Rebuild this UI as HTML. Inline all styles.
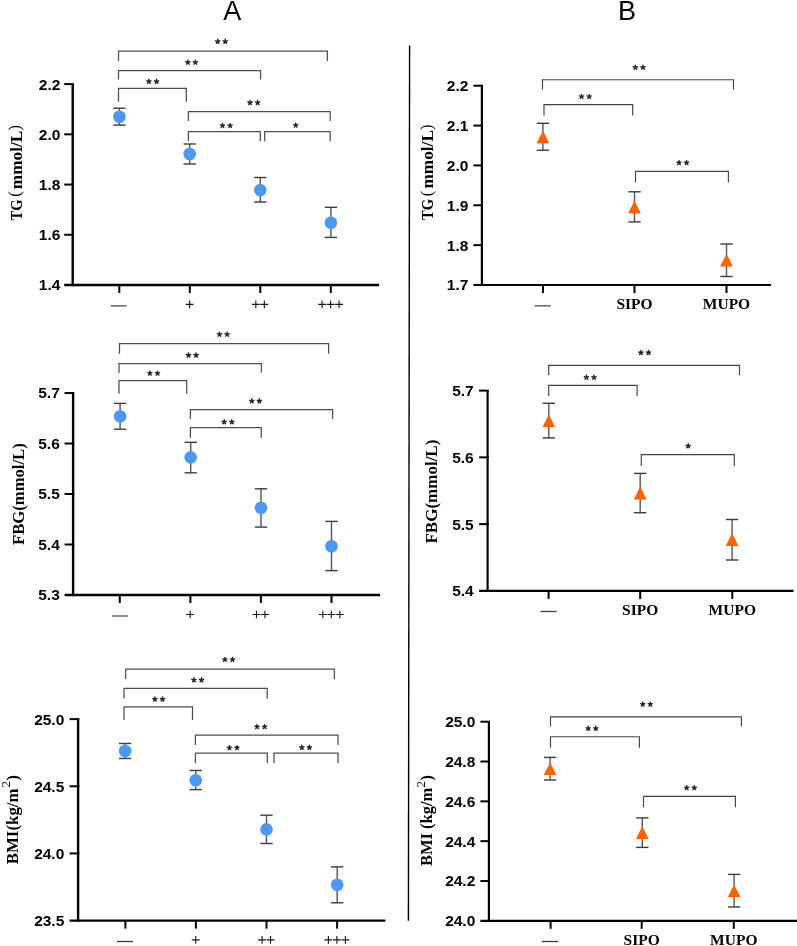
<!DOCTYPE html>
<html><head><meta charset="utf-8"><style>
html,body{margin:0;padding:0;background:#fff;width:797px;height:946px;overflow:hidden}
svg{display:block;position:absolute;left:0;top:0;will-change:transform}
</style></head><body>
<svg width="797" height="946" viewBox="0 0 797 946">
<rect width="797" height="946" fill="#fff"/>
<line x1="72.70" y1="84.10" x2="72.70" y2="286.20" stroke="#000" stroke-width="2.4" stroke-linecap="butt"/>
<line x1="64.20" y1="285.00" x2="379.00" y2="285.00" stroke="#000" stroke-width="2.4" stroke-linecap="butt"/>
<line x1="64.20" y1="84.10" x2="73.90" y2="84.10" stroke="#000" stroke-width="2.0" stroke-linecap="butt"/>
<text x="60.40" y="89.50" font-family="'Liberation Sans', sans-serif" font-size="15.5" font-weight="bold" text-anchor="end" fill="#000" >2.2</text>
<line x1="64.20" y1="134.33" x2="73.90" y2="134.33" stroke="#000" stroke-width="2.0" stroke-linecap="butt"/>
<text x="60.40" y="139.73" font-family="'Liberation Sans', sans-serif" font-size="15.5" font-weight="bold" text-anchor="end" fill="#000" >2.0</text>
<line x1="64.20" y1="184.55" x2="73.90" y2="184.55" stroke="#000" stroke-width="2.0" stroke-linecap="butt"/>
<text x="60.40" y="189.95" font-family="'Liberation Sans', sans-serif" font-size="15.5" font-weight="bold" text-anchor="end" fill="#000" >1.8</text>
<line x1="64.20" y1="234.77" x2="73.90" y2="234.77" stroke="#000" stroke-width="2.0" stroke-linecap="butt"/>
<text x="60.40" y="240.17" font-family="'Liberation Sans', sans-serif" font-size="15.5" font-weight="bold" text-anchor="end" fill="#000" >1.6</text>
<text x="60.40" y="290.40" font-family="'Liberation Sans', sans-serif" font-size="15.5" font-weight="bold" text-anchor="end" fill="#000" >1.4</text>
<line x1="119.30" y1="285.00" x2="119.30" y2="293.00" stroke="#000" stroke-width="2.0" stroke-linecap="butt"/>
<line x1="110.70" y1="305.90" x2="126.70" y2="305.90" stroke="#707070" stroke-width="1.6" stroke-linecap="butt"/>
<line x1="189.80" y1="285.00" x2="189.80" y2="293.00" stroke="#000" stroke-width="2.0" stroke-linecap="butt"/>
<path d="M185.70 304.40H193.50M189.60 300.55V308.25" stroke="#151515" stroke-width="1.1" fill="none"/>
<line x1="260.30" y1="285.00" x2="260.30" y2="293.00" stroke="#000" stroke-width="2.0" stroke-linecap="butt"/>
<path d="M251.95 304.40H259.75M255.85 300.55V308.25" stroke="#151515" stroke-width="1.1" fill="none"/>
<path d="M260.45 304.40H268.25M264.35 300.55V308.25" stroke="#151515" stroke-width="1.1" fill="none"/>
<line x1="330.80" y1="285.00" x2="330.80" y2="293.00" stroke="#000" stroke-width="2.0" stroke-linecap="butt"/>
<path d="M318.20 304.40H326.00M322.10 300.55V308.25" stroke="#151515" stroke-width="1.1" fill="none"/>
<path d="M326.70 304.40H334.50M330.60 300.55V308.25" stroke="#151515" stroke-width="1.1" fill="none"/>
<path d="M335.20 304.40H343.00M339.10 300.55V308.25" stroke="#151515" stroke-width="1.1" fill="none"/>
<path d="M118.50 101.70 V88.30 H186.30 V101.70" fill="none" stroke="#4e4e4e" stroke-width="1.25"/>
<path d="M148.90 81.50L148.90 79.30M148.90 81.50L150.99 80.82M148.90 81.50L150.19 83.28M148.90 81.50L147.61 83.28M148.90 81.50L146.81 80.82" stroke="#222" stroke-width="1.45" stroke-linecap="round" fill="none"/>
<path d="M156.50 81.50L156.50 79.30M156.50 81.50L158.59 80.82M156.50 81.50L157.79 83.28M156.50 81.50L155.21 83.28M156.50 81.50L154.41 80.82" stroke="#222" stroke-width="1.45" stroke-linecap="round" fill="none"/>
<path d="M118.50 79.50 V70.70 H260.60 V79.50" fill="none" stroke="#4e4e4e" stroke-width="1.25"/>
<path d="M187.80 62.40L187.80 60.20M187.80 62.40L189.89 61.72M187.80 62.40L189.09 64.18M187.80 62.40L186.51 64.18M187.80 62.40L185.71 61.72" stroke="#222" stroke-width="1.45" stroke-linecap="round" fill="none"/>
<path d="M195.40 62.40L195.40 60.20M195.40 62.40L197.49 61.72M195.40 62.40L196.69 64.18M195.40 62.40L194.11 64.18M195.40 62.40L193.31 61.72" stroke="#222" stroke-width="1.45" stroke-linecap="round" fill="none"/>
<path d="M118.50 60.90 V51.10 H327.40 V60.90" fill="none" stroke="#4e4e4e" stroke-width="1.25"/>
<path d="M217.70 41.50L217.70 39.30M217.70 41.50L219.79 40.82M217.70 41.50L218.99 43.28M217.70 41.50L216.41 43.28M217.70 41.50L215.61 40.82" stroke="#222" stroke-width="1.45" stroke-linecap="round" fill="none"/>
<path d="M225.30 41.50L225.30 39.30M225.30 41.50L227.39 40.82M225.30 41.50L226.59 43.28M225.30 41.50L224.01 43.28M225.30 41.50L223.21 40.82" stroke="#222" stroke-width="1.45" stroke-linecap="round" fill="none"/>
<path d="M188.40 121.10 V111.50 H330.20 V121.10" fill="none" stroke="#4e4e4e" stroke-width="1.25"/>
<path d="M250.00 102.70L250.00 100.50M250.00 102.70L252.09 102.02M250.00 102.70L251.29 104.48M250.00 102.70L248.71 104.48M250.00 102.70L247.91 102.02" stroke="#222" stroke-width="1.45" stroke-linecap="round" fill="none"/>
<path d="M257.60 102.70L257.60 100.50M257.60 102.70L259.69 102.02M257.60 102.70L258.89 104.48M257.60 102.70L256.31 104.48M257.60 102.70L255.51 102.02" stroke="#222" stroke-width="1.45" stroke-linecap="round" fill="none"/>
<path d="M188.40 141.20 V131.50 H260.30 V141.20" fill="none" stroke="#4e4e4e" stroke-width="1.25"/>
<path d="M222.50 125.60L222.50 123.40M222.50 125.60L224.59 124.92M222.50 125.60L223.79 127.38M222.50 125.60L221.21 127.38M222.50 125.60L220.41 124.92" stroke="#222" stroke-width="1.45" stroke-linecap="round" fill="none"/>
<path d="M230.10 125.60L230.10 123.40M230.10 125.60L232.19 124.92M230.10 125.60L231.39 127.38M230.10 125.60L228.81 127.38M230.10 125.60L228.01 124.92" stroke="#222" stroke-width="1.45" stroke-linecap="round" fill="none"/>
<path d="M264.70 141.20 V131.50 H330.20 V141.20" fill="none" stroke="#4e4e4e" stroke-width="1.25"/>
<path d="M295.70 125.30L295.70 123.10M295.70 125.30L297.79 124.62M295.70 125.30L296.99 127.08M295.70 125.30L294.41 127.08M295.70 125.30L293.61 124.62" stroke="#222" stroke-width="1.45" stroke-linecap="round" fill="none"/>
<line x1="119.40" y1="108.20" x2="119.40" y2="125.10" stroke="#555" stroke-width="1.4" stroke-linecap="butt"/>
<line x1="113.25" y1="108.20" x2="125.55" y2="108.20" stroke="#3c3c3c" stroke-width="1.4" stroke-linecap="butt"/>
<line x1="113.25" y1="125.10" x2="125.55" y2="125.10" stroke="#3c3c3c" stroke-width="1.4" stroke-linecap="butt"/>
<circle cx="119.40" cy="116.70" r="6.3" fill="#4b98f5"/>
<line x1="189.70" y1="144.00" x2="189.70" y2="164.00" stroke="#555" stroke-width="1.4" stroke-linecap="butt"/>
<line x1="183.55" y1="144.00" x2="195.85" y2="144.00" stroke="#3c3c3c" stroke-width="1.4" stroke-linecap="butt"/>
<line x1="183.55" y1="164.00" x2="195.85" y2="164.00" stroke="#3c3c3c" stroke-width="1.4" stroke-linecap="butt"/>
<circle cx="189.70" cy="154.00" r="6.3" fill="#4b98f5"/>
<line x1="260.30" y1="177.50" x2="260.30" y2="202.00" stroke="#555" stroke-width="1.4" stroke-linecap="butt"/>
<line x1="254.15" y1="177.50" x2="266.45" y2="177.50" stroke="#3c3c3c" stroke-width="1.4" stroke-linecap="butt"/>
<line x1="254.15" y1="202.00" x2="266.45" y2="202.00" stroke="#3c3c3c" stroke-width="1.4" stroke-linecap="butt"/>
<circle cx="260.30" cy="190.10" r="6.3" fill="#4b98f5"/>
<line x1="330.90" y1="207.30" x2="330.90" y2="237.40" stroke="#555" stroke-width="1.4" stroke-linecap="butt"/>
<line x1="324.75" y1="207.30" x2="337.05" y2="207.30" stroke="#3c3c3c" stroke-width="1.4" stroke-linecap="butt"/>
<line x1="324.75" y1="237.40" x2="337.05" y2="237.40" stroke="#3c3c3c" stroke-width="1.4" stroke-linecap="butt"/>
<circle cx="330.90" cy="222.70" r="6.3" fill="#4b98f5"/>
<text transform="translate(21.75,220.60) rotate(-90) scale(0.9,1)" font-family="'Liberation Serif', serif" font-size="16.3" font-weight="bold" text-anchor="start">TG</text>
<text transform="translate(19.95,196.80) rotate(-90) scale(1.0,1)" font-family="'Liberation Serif', serif" font-size="16.3" font-weight="normal" text-anchor="start">(</text>
<text transform="translate(21.75,189.20) rotate(-90) scale(1.06,1)" font-family="'Liberation Serif', serif" font-size="16.3" font-weight="bold" text-anchor="start">mmol/L</text>
<text transform="translate(19.95,130.60) rotate(-90) scale(1.0,1)" font-family="'Liberation Serif', serif" font-size="16.3" font-weight="normal" text-anchor="start">)</text>
<line x1="73.10" y1="393.00" x2="73.10" y2="596.20" stroke="#000" stroke-width="2.4" stroke-linecap="butt"/>
<line x1="64.60" y1="595.00" x2="380.00" y2="595.00" stroke="#000" stroke-width="2.4" stroke-linecap="butt"/>
<line x1="64.60" y1="393.00" x2="74.30" y2="393.00" stroke="#000" stroke-width="2.0" stroke-linecap="butt"/>
<text x="59.80" y="398.40" font-family="'Liberation Sans', sans-serif" font-size="15.5" font-weight="bold" text-anchor="end" fill="#000" >5.7</text>
<line x1="64.60" y1="443.50" x2="74.30" y2="443.50" stroke="#000" stroke-width="2.0" stroke-linecap="butt"/>
<text x="59.80" y="448.90" font-family="'Liberation Sans', sans-serif" font-size="15.5" font-weight="bold" text-anchor="end" fill="#000" >5.6</text>
<line x1="64.60" y1="494.00" x2="74.30" y2="494.00" stroke="#000" stroke-width="2.0" stroke-linecap="butt"/>
<text x="59.80" y="499.40" font-family="'Liberation Sans', sans-serif" font-size="15.5" font-weight="bold" text-anchor="end" fill="#000" >5.5</text>
<line x1="64.60" y1="544.50" x2="74.30" y2="544.50" stroke="#000" stroke-width="2.0" stroke-linecap="butt"/>
<text x="59.80" y="549.90" font-family="'Liberation Sans', sans-serif" font-size="15.5" font-weight="bold" text-anchor="end" fill="#000" >5.4</text>
<text x="59.80" y="600.40" font-family="'Liberation Sans', sans-serif" font-size="15.5" font-weight="bold" text-anchor="end" fill="#000" >5.3</text>
<line x1="119.80" y1="595.00" x2="119.80" y2="603.00" stroke="#000" stroke-width="2.0" stroke-linecap="butt"/>
<line x1="111.90" y1="616.00" x2="127.90" y2="616.00" stroke="#707070" stroke-width="1.6" stroke-linecap="butt"/>
<line x1="190.40" y1="595.00" x2="190.40" y2="603.00" stroke="#000" stroke-width="2.0" stroke-linecap="butt"/>
<path d="M186.30 614.50H194.10M190.20 610.65V618.35" stroke="#151515" stroke-width="1.1" fill="none"/>
<line x1="260.90" y1="595.00" x2="260.90" y2="603.00" stroke="#000" stroke-width="2.0" stroke-linecap="butt"/>
<path d="M252.55 614.50H260.35M256.45 610.65V618.35" stroke="#151515" stroke-width="1.1" fill="none"/>
<path d="M261.05 614.50H268.85M264.95 610.65V618.35" stroke="#151515" stroke-width="1.1" fill="none"/>
<line x1="331.50" y1="595.00" x2="331.50" y2="603.00" stroke="#000" stroke-width="2.0" stroke-linecap="butt"/>
<path d="M318.90 614.50H326.70M322.80 610.65V618.35" stroke="#151515" stroke-width="1.1" fill="none"/>
<path d="M327.40 614.50H335.20M331.30 610.65V618.35" stroke="#151515" stroke-width="1.1" fill="none"/>
<path d="M335.90 614.50H343.70M339.80 610.65V618.35" stroke="#151515" stroke-width="1.1" fill="none"/>
<path d="M119.00 393.70 V380.60 H186.70 V393.70" fill="none" stroke="#4e4e4e" stroke-width="1.25"/>
<path d="M149.90 373.30L149.90 371.10M149.90 373.30L151.99 372.62M149.90 373.30L151.19 375.08M149.90 373.30L148.61 375.08M149.90 373.30L147.81 372.62" stroke="#222" stroke-width="1.45" stroke-linecap="round" fill="none"/>
<path d="M157.50 373.30L157.50 371.10M157.50 373.30L159.59 372.62M157.50 373.30L158.79 375.08M157.50 373.30L156.21 375.08M157.50 373.30L155.41 372.62" stroke="#222" stroke-width="1.45" stroke-linecap="round" fill="none"/>
<path d="M119.00 373.00 V363.50 H261.40 V372.50" fill="none" stroke="#4e4e4e" stroke-width="1.25"/>
<path d="M188.50 355.20L188.50 353.00M188.50 355.20L190.59 354.52M188.50 355.20L189.79 356.98M188.50 355.20L187.21 356.98M188.50 355.20L186.41 354.52" stroke="#222" stroke-width="1.45" stroke-linecap="round" fill="none"/>
<path d="M196.10 355.20L196.10 353.00M196.10 355.20L198.19 354.52M196.10 355.20L197.39 356.98M196.10 355.20L194.81 356.98M196.10 355.20L194.01 354.52" stroke="#222" stroke-width="1.45" stroke-linecap="round" fill="none"/>
<path d="M119.50 353.70 V343.60 H328.60 V353.70" fill="none" stroke="#4e4e4e" stroke-width="1.25"/>
<path d="M219.50 334.40L219.50 332.20M219.50 334.40L221.59 333.72M219.50 334.40L220.79 336.18M219.50 334.40L218.21 336.18M219.50 334.40L217.41 333.72" stroke="#222" stroke-width="1.45" stroke-linecap="round" fill="none"/>
<path d="M227.10 334.40L227.10 332.20M227.10 334.40L229.19 333.72M227.10 334.40L228.39 336.18M227.10 334.40L225.81 336.18M227.10 334.40L225.01 333.72" stroke="#222" stroke-width="1.45" stroke-linecap="round" fill="none"/>
<path d="M190.40 419.10 V409.50 H332.60 V419.10" fill="none" stroke="#4e4e4e" stroke-width="1.25"/>
<path d="M251.80 401.00L251.80 398.80M251.80 401.00L253.89 400.32M251.80 401.00L253.09 402.78M251.80 401.00L250.51 402.78M251.80 401.00L249.71 400.32" stroke="#222" stroke-width="1.45" stroke-linecap="round" fill="none"/>
<path d="M259.40 401.00L259.40 398.80M259.40 401.00L261.49 400.32M259.40 401.00L260.69 402.78M259.40 401.00L258.11 402.78M259.40 401.00L257.31 400.32" stroke="#222" stroke-width="1.45" stroke-linecap="round" fill="none"/>
<path d="M190.40 437.80 V427.60 H261.30 V437.80" fill="none" stroke="#4e4e4e" stroke-width="1.25"/>
<path d="M224.20 422.00L224.20 419.80M224.20 422.00L226.29 421.32M224.20 422.00L225.49 423.78M224.20 422.00L222.91 423.78M224.20 422.00L222.11 421.32" stroke="#222" stroke-width="1.45" stroke-linecap="round" fill="none"/>
<path d="M231.80 422.00L231.80 419.80M231.80 422.00L233.89 421.32M231.80 422.00L233.09 423.78M231.80 422.00L230.51 423.78M231.80 422.00L229.71 421.32" stroke="#222" stroke-width="1.45" stroke-linecap="round" fill="none"/>
<line x1="120.10" y1="403.40" x2="120.10" y2="429.20" stroke="#555" stroke-width="1.4" stroke-linecap="butt"/>
<line x1="113.95" y1="403.40" x2="126.25" y2="403.40" stroke="#3c3c3c" stroke-width="1.4" stroke-linecap="butt"/>
<line x1="113.95" y1="429.20" x2="126.25" y2="429.20" stroke="#3c3c3c" stroke-width="1.4" stroke-linecap="butt"/>
<circle cx="120.10" cy="416.20" r="6.3" fill="#4b98f5"/>
<line x1="190.70" y1="442.30" x2="190.70" y2="472.80" stroke="#555" stroke-width="1.4" stroke-linecap="butt"/>
<line x1="184.55" y1="442.30" x2="196.85" y2="442.30" stroke="#3c3c3c" stroke-width="1.4" stroke-linecap="butt"/>
<line x1="184.55" y1="472.80" x2="196.85" y2="472.80" stroke="#3c3c3c" stroke-width="1.4" stroke-linecap="butt"/>
<circle cx="190.70" cy="457.40" r="6.3" fill="#4b98f5"/>
<line x1="261.00" y1="488.80" x2="261.00" y2="527.10" stroke="#555" stroke-width="1.4" stroke-linecap="butt"/>
<line x1="254.85" y1="488.80" x2="267.15" y2="488.80" stroke="#3c3c3c" stroke-width="1.4" stroke-linecap="butt"/>
<line x1="254.85" y1="527.10" x2="267.15" y2="527.10" stroke="#3c3c3c" stroke-width="1.4" stroke-linecap="butt"/>
<circle cx="261.00" cy="507.80" r="6.3" fill="#4b98f5"/>
<line x1="331.50" y1="521.40" x2="331.50" y2="570.60" stroke="#555" stroke-width="1.4" stroke-linecap="butt"/>
<line x1="325.35" y1="521.40" x2="337.65" y2="521.40" stroke="#3c3c3c" stroke-width="1.4" stroke-linecap="butt"/>
<line x1="325.35" y1="570.60" x2="337.65" y2="570.60" stroke="#3c3c3c" stroke-width="1.4" stroke-linecap="butt"/>
<circle cx="331.50" cy="546.20" r="6.3" fill="#4b98f5"/>
<text transform="translate(24.20,545.00) rotate(-90) scale(1.023,1)" font-family="'Liberation Serif', serif" font-size="16.3" font-weight="bold" text-anchor="start">FBG(mmol/L)</text>
<line x1="78.10" y1="719.10" x2="78.10" y2="921.80" stroke="#000" stroke-width="2.4" stroke-linecap="butt"/>
<line x1="69.60" y1="920.60" x2="385.30" y2="920.60" stroke="#000" stroke-width="2.4" stroke-linecap="butt"/>
<line x1="69.60" y1="719.10" x2="79.30" y2="719.10" stroke="#000" stroke-width="2.0" stroke-linecap="butt"/>
<text x="64.30" y="724.50" font-family="'Liberation Sans', sans-serif" font-size="15.5" font-weight="bold" text-anchor="end" fill="#000" >25.0</text>
<line x1="69.60" y1="786.27" x2="79.30" y2="786.27" stroke="#000" stroke-width="2.0" stroke-linecap="butt"/>
<text x="64.30" y="791.67" font-family="'Liberation Sans', sans-serif" font-size="15.5" font-weight="bold" text-anchor="end" fill="#000" >24.5</text>
<line x1="69.60" y1="853.43" x2="79.30" y2="853.43" stroke="#000" stroke-width="2.0" stroke-linecap="butt"/>
<text x="64.30" y="858.83" font-family="'Liberation Sans', sans-serif" font-size="15.5" font-weight="bold" text-anchor="end" fill="#000" >24.0</text>
<text x="64.30" y="926.00" font-family="'Liberation Sans', sans-serif" font-size="15.5" font-weight="bold" text-anchor="end" fill="#000" >23.5</text>
<line x1="125.40" y1="920.60" x2="125.40" y2="928.60" stroke="#000" stroke-width="2.0" stroke-linecap="butt"/>
<line x1="117.00" y1="941.50" x2="133.00" y2="941.50" stroke="#383838" stroke-width="1.3" stroke-linecap="butt"/>
<line x1="195.90" y1="920.60" x2="195.90" y2="928.60" stroke="#000" stroke-width="2.0" stroke-linecap="butt"/>
<path d="M191.80 939.90H199.60M195.70 936.05V943.75" stroke="#151515" stroke-width="1.1" fill="none"/>
<line x1="266.50" y1="920.60" x2="266.50" y2="928.60" stroke="#000" stroke-width="2.0" stroke-linecap="butt"/>
<path d="M258.15 939.90H265.95M262.05 936.05V943.75" stroke="#151515" stroke-width="1.1" fill="none"/>
<path d="M266.65 939.90H274.45M270.55 936.05V943.75" stroke="#151515" stroke-width="1.1" fill="none"/>
<line x1="337.10" y1="920.60" x2="337.10" y2="928.60" stroke="#000" stroke-width="2.0" stroke-linecap="butt"/>
<path d="M324.50 939.90H332.30M328.40 936.05V943.75" stroke="#151515" stroke-width="1.1" fill="none"/>
<path d="M333.00 939.90H340.80M336.90 936.05V943.75" stroke="#151515" stroke-width="1.1" fill="none"/>
<path d="M341.50 939.90H349.30M345.40 936.05V943.75" stroke="#151515" stroke-width="1.1" fill="none"/>
<path d="M124.00 720.10 V706.80 H192.50 V720.10" fill="none" stroke="#4e4e4e" stroke-width="1.25"/>
<path d="M154.90 699.20L154.90 697.00M154.90 699.20L156.99 698.52M154.90 699.20L156.19 700.98M154.90 699.20L153.61 700.98M154.90 699.20L152.81 698.52" stroke="#222" stroke-width="1.45" stroke-linecap="round" fill="none"/>
<path d="M162.50 699.20L162.50 697.00M162.50 699.20L164.59 698.52M162.50 699.20L163.79 700.98M162.50 699.20L161.21 700.98M162.50 699.20L160.41 698.52" stroke="#222" stroke-width="1.45" stroke-linecap="round" fill="none"/>
<path d="M124.00 698.50 V688.30 H267.20 V698.50" fill="none" stroke="#4e4e4e" stroke-width="1.25"/>
<path d="M193.90 680.00L193.90 677.80M193.90 680.00L195.99 679.32M193.90 680.00L195.19 681.78M193.90 680.00L192.61 681.78M193.90 680.00L191.81 679.32" stroke="#222" stroke-width="1.45" stroke-linecap="round" fill="none"/>
<path d="M201.50 680.00L201.50 677.80M201.50 680.00L203.59 679.32M201.50 680.00L202.79 681.78M201.50 680.00L200.21 681.78M201.50 680.00L199.41 679.32" stroke="#222" stroke-width="1.45" stroke-linecap="round" fill="none"/>
<path d="M125.60 678.90 V669.10 H334.40 V678.90" fill="none" stroke="#4e4e4e" stroke-width="1.25"/>
<path d="M224.90 659.60L224.90 657.40M224.90 659.60L226.99 658.92M224.90 659.60L226.19 661.38M224.90 659.60L223.61 661.38M224.90 659.60L222.81 658.92" stroke="#222" stroke-width="1.45" stroke-linecap="round" fill="none"/>
<path d="M232.50 659.60L232.50 657.40M232.50 659.60L234.59 658.92M232.50 659.60L233.79 661.38M232.50 659.60L231.21 661.38M232.50 659.60L230.41 658.92" stroke="#222" stroke-width="1.45" stroke-linecap="round" fill="none"/>
<path d="M195.40 745.10 V735.10 H338.00 V745.10" fill="none" stroke="#4e4e4e" stroke-width="1.25"/>
<path d="M257.00 726.80L257.00 724.60M257.00 726.80L259.09 726.12M257.00 726.80L258.29 728.58M257.00 726.80L255.71 728.58M257.00 726.80L254.91 726.12" stroke="#222" stroke-width="1.45" stroke-linecap="round" fill="none"/>
<path d="M264.60 726.80L264.60 724.60M264.60 726.80L266.69 726.12M264.60 726.80L265.89 728.58M264.60 726.80L263.31 728.58M264.60 726.80L262.51 726.12" stroke="#222" stroke-width="1.45" stroke-linecap="round" fill="none"/>
<path d="M195.40 763.20 V753.20 H267.30 V763.20" fill="none" stroke="#4e4e4e" stroke-width="1.25"/>
<path d="M229.40 747.80L229.40 745.60M229.40 747.80L231.49 747.12M229.40 747.80L230.69 749.58M229.40 747.80L228.11 749.58M229.40 747.80L227.31 747.12" stroke="#222" stroke-width="1.45" stroke-linecap="round" fill="none"/>
<path d="M237.00 747.80L237.00 745.60M237.00 747.80L239.09 747.12M237.00 747.80L238.29 749.58M237.00 747.80L235.71 749.58M237.00 747.80L234.91 747.12" stroke="#222" stroke-width="1.45" stroke-linecap="round" fill="none"/>
<path d="M274.00 763.20 V753.20 H338.00 V763.20" fill="none" stroke="#4e4e4e" stroke-width="1.25"/>
<path d="M301.80 747.50L301.80 745.30M301.80 747.50L303.89 746.82M301.80 747.50L303.09 749.28M301.80 747.50L300.51 749.28M301.80 747.50L299.71 746.82" stroke="#222" stroke-width="1.45" stroke-linecap="round" fill="none"/>
<path d="M309.40 747.50L309.40 745.30M309.40 747.50L311.49 746.82M309.40 747.50L310.69 749.28M309.40 747.50L308.11 749.28M309.40 747.50L307.31 746.82" stroke="#222" stroke-width="1.45" stroke-linecap="round" fill="none"/>
<line x1="125.10" y1="743.50" x2="125.10" y2="758.50" stroke="#555" stroke-width="1.4" stroke-linecap="butt"/>
<line x1="118.95" y1="743.50" x2="131.25" y2="743.50" stroke="#3c3c3c" stroke-width="1.4" stroke-linecap="butt"/>
<line x1="118.95" y1="758.50" x2="131.25" y2="758.50" stroke="#3c3c3c" stroke-width="1.4" stroke-linecap="butt"/>
<circle cx="125.10" cy="751.00" r="6.3" fill="#4b98f5"/>
<line x1="195.70" y1="770.50" x2="195.70" y2="789.60" stroke="#555" stroke-width="1.4" stroke-linecap="butt"/>
<line x1="189.55" y1="770.50" x2="201.85" y2="770.50" stroke="#3c3c3c" stroke-width="1.4" stroke-linecap="butt"/>
<line x1="189.55" y1="789.60" x2="201.85" y2="789.60" stroke="#3c3c3c" stroke-width="1.4" stroke-linecap="butt"/>
<circle cx="195.70" cy="780.20" r="6.3" fill="#4b98f5"/>
<line x1="266.50" y1="815.20" x2="266.50" y2="843.50" stroke="#555" stroke-width="1.4" stroke-linecap="butt"/>
<line x1="260.35" y1="815.20" x2="272.65" y2="815.20" stroke="#3c3c3c" stroke-width="1.4" stroke-linecap="butt"/>
<line x1="260.35" y1="843.50" x2="272.65" y2="843.50" stroke="#3c3c3c" stroke-width="1.4" stroke-linecap="butt"/>
<circle cx="266.50" cy="829.40" r="6.3" fill="#4b98f5"/>
<line x1="337.20" y1="866.90" x2="337.20" y2="902.80" stroke="#555" stroke-width="1.4" stroke-linecap="butt"/>
<line x1="331.05" y1="866.90" x2="343.35" y2="866.90" stroke="#3c3c3c" stroke-width="1.4" stroke-linecap="butt"/>
<line x1="331.05" y1="902.80" x2="343.35" y2="902.80" stroke="#3c3c3c" stroke-width="1.4" stroke-linecap="butt"/>
<circle cx="337.20" cy="884.80" r="6.3" fill="#4b98f5"/>
<text transform="translate(17.90,864.30) rotate(-90) scale(1.035,1)" font-family="'Liberation Serif', serif" font-size="16.3" font-weight="bold" text-anchor="start">BMI(kg/m</text>
<text transform="translate(10.40,787.40) rotate(-90) scale(1.0,1)" font-family="'Liberation Serif', serif" font-size="13" font-weight="normal" text-anchor="start">2</text>
<text transform="translate(17.90,780.60) rotate(-90) scale(1.0,1)" font-family="'Liberation Serif', serif" font-size="16.3" font-weight="bold" text-anchor="start">)</text>
<line x1="481.90" y1="85.70" x2="481.90" y2="286.10" stroke="#000" stroke-width="2.2" stroke-linecap="butt"/>
<line x1="473.40" y1="285.00" x2="771.00" y2="285.00" stroke="#000" stroke-width="2.2" stroke-linecap="butt"/>
<line x1="473.40" y1="85.70" x2="483.00" y2="85.70" stroke="#000" stroke-width="2.0" stroke-linecap="butt"/>
<text x="468.40" y="91.10" font-family="'Liberation Sans', sans-serif" font-size="15.5" font-weight="bold" text-anchor="end" fill="#000" >2.2</text>
<line x1="473.40" y1="125.56" x2="483.00" y2="125.56" stroke="#000" stroke-width="2.0" stroke-linecap="butt"/>
<text x="468.40" y="130.96" font-family="'Liberation Sans', sans-serif" font-size="15.5" font-weight="bold" text-anchor="end" fill="#000" >2.1</text>
<line x1="473.40" y1="165.42" x2="483.00" y2="165.42" stroke="#000" stroke-width="2.0" stroke-linecap="butt"/>
<text x="468.40" y="170.82" font-family="'Liberation Sans', sans-serif" font-size="15.5" font-weight="bold" text-anchor="end" fill="#000" >2.0</text>
<line x1="473.40" y1="205.28" x2="483.00" y2="205.28" stroke="#000" stroke-width="2.0" stroke-linecap="butt"/>
<text x="468.40" y="210.68" font-family="'Liberation Sans', sans-serif" font-size="15.5" font-weight="bold" text-anchor="end" fill="#000" >1.9</text>
<line x1="473.40" y1="245.14" x2="483.00" y2="245.14" stroke="#000" stroke-width="2.0" stroke-linecap="butt"/>
<text x="468.40" y="250.54" font-family="'Liberation Sans', sans-serif" font-size="15.5" font-weight="bold" text-anchor="end" fill="#000" >1.8</text>
<text x="468.40" y="290.40" font-family="'Liberation Sans', sans-serif" font-size="15.5" font-weight="bold" text-anchor="end" fill="#000" >1.7</text>
<line x1="543.00" y1="285.00" x2="543.00" y2="293.00" stroke="#000" stroke-width="2.0" stroke-linecap="butt"/>
<line x1="534.70" y1="305.80" x2="550.70" y2="305.80" stroke="#707070" stroke-width="1.6" stroke-linecap="butt"/>
<line x1="634.50" y1="285.00" x2="634.50" y2="293.00" stroke="#000" stroke-width="2.0" stroke-linecap="butt"/>
<text x="634.50" y="309.00" font-family="'Liberation Serif', serif" font-size="15.5" font-weight="bold" text-anchor="middle" fill="#000" >SIPO</text>
<line x1="726.50" y1="285.00" x2="726.50" y2="293.00" stroke="#000" stroke-width="2.0" stroke-linecap="butt"/>
<text x="726.50" y="309.00" font-family="'Liberation Serif', serif" font-size="15.5" font-weight="bold" text-anchor="middle" fill="#000" >MUPO</text>
<path d="M544.00 115.60 V104.60 H632.70 V115.60" fill="none" stroke="#444" stroke-width="1.15"/>
<path d="M581.60 96.60L581.60 94.40M581.60 96.60L583.69 95.92M581.60 96.60L582.89 98.38M581.60 96.60L580.31 98.38M581.60 96.60L579.51 95.92" stroke="#222" stroke-width="1.45" stroke-linecap="round" fill="none"/>
<path d="M589.20 96.60L589.20 94.40M589.20 96.60L591.29 95.92M589.20 96.60L590.49 98.38M589.20 96.60L587.91 98.38M589.20 96.60L587.11 95.92" stroke="#222" stroke-width="1.45" stroke-linecap="round" fill="none"/>
<path d="M542.50 89.50 V79.70 H733.50 V89.50" fill="none" stroke="#444" stroke-width="1.15"/>
<path d="M635.40 67.40L635.40 65.20M635.40 67.40L637.49 66.72M635.40 67.40L636.69 69.18M635.40 67.40L634.11 69.18M635.40 67.40L633.31 66.72" stroke="#222" stroke-width="1.45" stroke-linecap="round" fill="none"/>
<path d="M643.00 67.40L643.00 65.20M643.00 67.40L645.09 66.72M643.00 67.40L644.29 69.18M643.00 67.40L641.71 69.18M643.00 67.40L640.91 66.72" stroke="#222" stroke-width="1.45" stroke-linecap="round" fill="none"/>
<path d="M635.50 182.40 V171.40 H728.40 V182.40" fill="none" stroke="#444" stroke-width="1.15"/>
<path d="M679.00 162.80L679.00 160.60M679.00 162.80L681.09 162.12M679.00 162.80L680.29 164.58M679.00 162.80L677.71 164.58M679.00 162.80L676.91 162.12" stroke="#222" stroke-width="1.45" stroke-linecap="round" fill="none"/>
<path d="M686.60 162.80L686.60 160.60M686.60 162.80L688.69 162.12M686.60 162.80L687.89 164.58M686.60 162.80L685.31 164.58M686.60 162.80L684.51 162.12" stroke="#222" stroke-width="1.45" stroke-linecap="round" fill="none"/>
<text transform="translate(433.40,220.00) rotate(-90) scale(0.9,1)" font-family="'Liberation Serif', serif" font-size="16.3" font-weight="bold" text-anchor="start">TG</text>
<text transform="translate(431.60,196.20) rotate(-90) scale(1.0,1)" font-family="'Liberation Serif', serif" font-size="16.3" font-weight="normal" text-anchor="start">(</text>
<text transform="translate(433.40,188.60) rotate(-90) scale(1.06,1)" font-family="'Liberation Serif', serif" font-size="16.3" font-weight="bold" text-anchor="start">mmol/L</text>
<text transform="translate(431.60,130.00) rotate(-90) scale(1.0,1)" font-family="'Liberation Serif', serif" font-size="16.3" font-weight="normal" text-anchor="start">)</text>
<line x1="542.90" y1="123.30" x2="542.90" y2="150.20" stroke="#555" stroke-width="1.4" stroke-linecap="butt"/>
<line x1="536.75" y1="123.30" x2="549.05" y2="123.30" stroke="#3c3c3c" stroke-width="1.4" stroke-linecap="butt"/>
<line x1="536.75" y1="150.20" x2="549.05" y2="150.20" stroke="#3c3c3c" stroke-width="1.4" stroke-linecap="butt"/>
<path d="M542.90 130.50 L549.20 143.20 L536.60 143.20 Z" fill="#ff6200"/>
<line x1="634.50" y1="191.80" x2="634.50" y2="221.90" stroke="#555" stroke-width="1.4" stroke-linecap="butt"/>
<line x1="628.35" y1="191.80" x2="640.65" y2="191.80" stroke="#3c3c3c" stroke-width="1.4" stroke-linecap="butt"/>
<line x1="628.35" y1="221.90" x2="640.65" y2="221.90" stroke="#3c3c3c" stroke-width="1.4" stroke-linecap="butt"/>
<path d="M634.50 200.70 L640.80 213.20 L628.20 213.20 Z" fill="#ff6200"/>
<line x1="726.50" y1="244.00" x2="726.50" y2="276.50" stroke="#555" stroke-width="1.4" stroke-linecap="butt"/>
<line x1="720.35" y1="244.00" x2="732.65" y2="244.00" stroke="#3c3c3c" stroke-width="1.4" stroke-linecap="butt"/>
<line x1="720.35" y1="276.50" x2="732.65" y2="276.50" stroke="#3c3c3c" stroke-width="1.4" stroke-linecap="butt"/>
<path d="M726.50 253.50 L732.80 266.40 L720.20 266.40 Z" fill="#ff6200"/>
<line x1="487.60" y1="390.60" x2="487.60" y2="592.00" stroke="#000" stroke-width="2.2" stroke-linecap="butt"/>
<line x1="479.10" y1="590.90" x2="793.50" y2="590.90" stroke="#000" stroke-width="2.2" stroke-linecap="butt"/>
<line x1="479.10" y1="390.60" x2="488.70" y2="390.60" stroke="#000" stroke-width="2.0" stroke-linecap="butt"/>
<text x="473.70" y="396.00" font-family="'Liberation Sans', sans-serif" font-size="15.5" font-weight="bold" text-anchor="end" fill="#000" >5.7</text>
<line x1="479.10" y1="457.37" x2="488.70" y2="457.37" stroke="#000" stroke-width="2.0" stroke-linecap="butt"/>
<text x="473.70" y="462.77" font-family="'Liberation Sans', sans-serif" font-size="15.5" font-weight="bold" text-anchor="end" fill="#000" >5.6</text>
<line x1="479.10" y1="524.13" x2="488.70" y2="524.13" stroke="#000" stroke-width="2.0" stroke-linecap="butt"/>
<text x="473.70" y="529.53" font-family="'Liberation Sans', sans-serif" font-size="15.5" font-weight="bold" text-anchor="end" fill="#000" >5.5</text>
<text x="473.70" y="596.30" font-family="'Liberation Sans', sans-serif" font-size="15.5" font-weight="bold" text-anchor="end" fill="#000" >5.4</text>
<line x1="548.60" y1="590.90" x2="548.60" y2="598.90" stroke="#000" stroke-width="2.0" stroke-linecap="butt"/>
<line x1="540.60" y1="611.50" x2="556.60" y2="611.50" stroke="#404040" stroke-width="1.3" stroke-linecap="butt"/>
<line x1="640.20" y1="590.90" x2="640.20" y2="598.90" stroke="#000" stroke-width="2.0" stroke-linecap="butt"/>
<text x="640.20" y="615.00" font-family="'Liberation Serif', serif" font-size="15.5" font-weight="bold" text-anchor="middle" fill="#000" >SIPO</text>
<line x1="732.30" y1="590.90" x2="732.30" y2="598.90" stroke="#000" stroke-width="2.0" stroke-linecap="butt"/>
<text x="732.30" y="615.00" font-family="'Liberation Serif', serif" font-size="15.5" font-weight="bold" text-anchor="middle" fill="#000" >MUPO</text>
<path d="M548.70 396.00 V385.30 H637.10 V396.00" fill="none" stroke="#444" stroke-width="1.15"/>
<path d="M586.40 377.40L586.40 375.20M586.40 377.40L588.49 376.72M586.40 377.40L587.69 379.18M586.40 377.40L585.11 379.18M586.40 377.40L584.31 376.72" stroke="#222" stroke-width="1.45" stroke-linecap="round" fill="none"/>
<path d="M594.00 377.40L594.00 375.20M594.00 377.40L596.09 376.72M594.00 377.40L595.29 379.18M594.00 377.40L592.71 379.18M594.00 377.40L591.91 376.72" stroke="#222" stroke-width="1.45" stroke-linecap="round" fill="none"/>
<path d="M548.70 375.00 V365.30 H739.50 V375.00" fill="none" stroke="#444" stroke-width="1.15"/>
<path d="M640.90 352.70L640.90 350.50M640.90 352.70L642.99 352.02M640.90 352.70L642.19 354.48M640.90 352.70L639.61 354.48M640.90 352.70L638.81 352.02" stroke="#222" stroke-width="1.45" stroke-linecap="round" fill="none"/>
<path d="M648.50 352.70L648.50 350.50M648.50 352.70L650.59 352.02M648.50 352.70L649.79 354.48M648.50 352.70L647.21 354.48M648.50 352.70L646.41 352.02" stroke="#222" stroke-width="1.45" stroke-linecap="round" fill="none"/>
<path d="M641.30 465.90 V454.60 H734.30 V465.90" fill="none" stroke="#444" stroke-width="1.15"/>
<path d="M688.20 446.00L688.20 443.80M688.20 446.00L690.29 445.32M688.20 446.00L689.49 447.78M688.20 446.00L686.91 447.78M688.20 446.00L686.11 445.32" stroke="#222" stroke-width="1.45" stroke-linecap="round" fill="none"/>
<text transform="translate(437.30,543.60) rotate(-90) scale(1.045,1)" font-family="'Liberation Serif', serif" font-size="16.3" font-weight="bold" text-anchor="start">FBG(mmol/L)</text>
<line x1="548.80" y1="403.30" x2="548.80" y2="437.90" stroke="#555" stroke-width="1.4" stroke-linecap="butt"/>
<line x1="542.65" y1="403.30" x2="554.95" y2="403.30" stroke="#3c3c3c" stroke-width="1.4" stroke-linecap="butt"/>
<line x1="542.65" y1="437.90" x2="554.95" y2="437.90" stroke="#3c3c3c" stroke-width="1.4" stroke-linecap="butt"/>
<path d="M548.80 414.50 L555.10 427.00 L542.50 427.00 Z" fill="#ff6200"/>
<line x1="640.20" y1="473.40" x2="640.20" y2="512.70" stroke="#555" stroke-width="1.4" stroke-linecap="butt"/>
<line x1="634.05" y1="473.40" x2="646.35" y2="473.40" stroke="#3c3c3c" stroke-width="1.4" stroke-linecap="butt"/>
<line x1="634.05" y1="512.70" x2="646.35" y2="512.70" stroke="#3c3c3c" stroke-width="1.4" stroke-linecap="butt"/>
<path d="M640.20 486.20 L646.50 499.40 L633.90 499.40 Z" fill="#ff6200"/>
<line x1="732.10" y1="519.50" x2="732.10" y2="560.00" stroke="#555" stroke-width="1.4" stroke-linecap="butt"/>
<line x1="725.95" y1="519.50" x2="738.25" y2="519.50" stroke="#3c3c3c" stroke-width="1.4" stroke-linecap="butt"/>
<line x1="725.95" y1="560.00" x2="738.25" y2="560.00" stroke="#3c3c3c" stroke-width="1.4" stroke-linecap="butt"/>
<path d="M732.10 533.10 L738.40 545.90 L725.80 545.90 Z" fill="#ff6200"/>
<line x1="488.90" y1="721.70" x2="488.90" y2="921.90" stroke="#000" stroke-width="2.2" stroke-linecap="butt"/>
<line x1="480.40" y1="920.80" x2="797.00" y2="920.80" stroke="#000" stroke-width="2.2" stroke-linecap="butt"/>
<line x1="480.40" y1="721.70" x2="490.00" y2="721.70" stroke="#000" stroke-width="2.0" stroke-linecap="butt"/>
<text x="475.30" y="727.10" font-family="'Liberation Sans', sans-serif" font-size="15.5" font-weight="bold" text-anchor="end" fill="#000" >25.0</text>
<line x1="480.40" y1="761.52" x2="490.00" y2="761.52" stroke="#000" stroke-width="2.0" stroke-linecap="butt"/>
<text x="475.30" y="766.92" font-family="'Liberation Sans', sans-serif" font-size="15.5" font-weight="bold" text-anchor="end" fill="#000" >24.8</text>
<line x1="480.40" y1="801.34" x2="490.00" y2="801.34" stroke="#000" stroke-width="2.0" stroke-linecap="butt"/>
<text x="475.30" y="806.74" font-family="'Liberation Sans', sans-serif" font-size="15.5" font-weight="bold" text-anchor="end" fill="#000" >24.6</text>
<line x1="480.40" y1="841.16" x2="490.00" y2="841.16" stroke="#000" stroke-width="2.0" stroke-linecap="butt"/>
<text x="475.30" y="846.56" font-family="'Liberation Sans', sans-serif" font-size="15.5" font-weight="bold" text-anchor="end" fill="#000" >24.4</text>
<line x1="480.40" y1="880.98" x2="490.00" y2="880.98" stroke="#000" stroke-width="2.0" stroke-linecap="butt"/>
<text x="475.30" y="886.38" font-family="'Liberation Sans', sans-serif" font-size="15.5" font-weight="bold" text-anchor="end" fill="#000" >24.2</text>
<text x="475.30" y="926.20" font-family="'Liberation Sans', sans-serif" font-size="15.5" font-weight="bold" text-anchor="end" fill="#000" >24.0</text>
<line x1="550.60" y1="920.80" x2="550.60" y2="928.80" stroke="#000" stroke-width="2.0" stroke-linecap="butt"/>
<line x1="542.00" y1="941.50" x2="558.00" y2="941.50" stroke="#383838" stroke-width="1.3" stroke-linecap="butt"/>
<line x1="641.70" y1="920.80" x2="641.70" y2="928.80" stroke="#000" stroke-width="2.0" stroke-linecap="butt"/>
<text x="641.70" y="945.40" font-family="'Liberation Serif', serif" font-size="15.5" font-weight="bold" text-anchor="middle" fill="#000" >SIPO</text>
<line x1="733.80" y1="920.80" x2="733.80" y2="928.80" stroke="#000" stroke-width="2.0" stroke-linecap="butt"/>
<text x="733.80" y="945.40" font-family="'Liberation Serif', serif" font-size="15.5" font-weight="bold" text-anchor="middle" fill="#000" >MUPO</text>
<path d="M550.50 747.70 V736.70 H639.40 V747.70" fill="none" stroke="#444" stroke-width="1.15"/>
<path d="M588.20 728.50L588.20 726.30M588.20 728.50L590.29 727.82M588.20 728.50L589.49 730.28M588.20 728.50L586.91 730.28M588.20 728.50L586.11 727.82" stroke="#222" stroke-width="1.45" stroke-linecap="round" fill="none"/>
<path d="M595.80 728.50L595.80 726.30M595.80 728.50L597.89 727.82M595.80 728.50L597.09 730.28M595.80 728.50L594.51 730.28M595.80 728.50L593.71 727.82" stroke="#222" stroke-width="1.45" stroke-linecap="round" fill="none"/>
<path d="M550.50 726.50 V716.80 H741.40 V726.50" fill="none" stroke="#444" stroke-width="1.15"/>
<path d="M642.70 704.30L642.70 702.10M642.70 704.30L644.79 703.62M642.70 704.30L643.99 706.08M642.70 704.30L641.41 706.08M642.70 704.30L640.61 703.62" stroke="#222" stroke-width="1.45" stroke-linecap="round" fill="none"/>
<path d="M650.30 704.30L650.30 702.10M650.30 704.30L652.39 703.62M650.30 704.30L651.59 706.08M650.30 704.30L649.01 706.08M650.30 704.30L648.21 703.62" stroke="#222" stroke-width="1.45" stroke-linecap="round" fill="none"/>
<path d="M643.50 807.20 V796.30 H735.40 V807.20" fill="none" stroke="#444" stroke-width="1.15"/>
<path d="M686.70 787.80L686.70 785.60M686.70 787.80L688.79 787.12M686.70 787.80L687.99 789.58M686.70 787.80L685.41 789.58M686.70 787.80L684.61 787.12" stroke="#222" stroke-width="1.45" stroke-linecap="round" fill="none"/>
<path d="M694.30 787.80L694.30 785.60M694.30 787.80L696.39 787.12M694.30 787.80L695.59 789.58M694.30 787.80L693.01 789.58M694.30 787.80L692.21 787.12" stroke="#222" stroke-width="1.45" stroke-linecap="round" fill="none"/>
<text transform="translate(432.40,866.00) rotate(-90) scale(1.01,1)" font-family="'Liberation Serif', serif" font-size="16.3" font-weight="bold" text-anchor="start">BMI (kg/m</text>
<text transform="translate(424.90,787.40) rotate(-90) scale(1.0,1)" font-family="'Liberation Serif', serif" font-size="13" font-weight="normal" text-anchor="start">2</text>
<text transform="translate(432.40,780.60) rotate(-90) scale(1.0,1)" font-family="'Liberation Serif', serif" font-size="16.3" font-weight="bold" text-anchor="start">)</text>
<line x1="550.10" y1="757.40" x2="550.10" y2="780.00" stroke="#555" stroke-width="1.4" stroke-linecap="butt"/>
<line x1="543.95" y1="757.40" x2="556.25" y2="757.40" stroke="#3c3c3c" stroke-width="1.4" stroke-linecap="butt"/>
<line x1="543.95" y1="780.00" x2="556.25" y2="780.00" stroke="#3c3c3c" stroke-width="1.4" stroke-linecap="butt"/>
<path d="M550.10 762.30 L556.40 774.90 L543.80 774.90 Z" fill="#ff6200"/>
<line x1="642.30" y1="817.90" x2="642.30" y2="847.40" stroke="#555" stroke-width="1.4" stroke-linecap="butt"/>
<line x1="636.15" y1="817.90" x2="648.45" y2="817.90" stroke="#3c3c3c" stroke-width="1.4" stroke-linecap="butt"/>
<line x1="636.15" y1="847.40" x2="648.45" y2="847.40" stroke="#3c3c3c" stroke-width="1.4" stroke-linecap="butt"/>
<path d="M642.30 826.10 L648.60 839.00 L636.00 839.00 Z" fill="#ff6200"/>
<line x1="734.10" y1="874.40" x2="734.10" y2="907.00" stroke="#555" stroke-width="1.4" stroke-linecap="butt"/>
<line x1="727.95" y1="874.40" x2="740.25" y2="874.40" stroke="#3c3c3c" stroke-width="1.4" stroke-linecap="butt"/>
<line x1="727.95" y1="907.00" x2="740.25" y2="907.00" stroke="#3c3c3c" stroke-width="1.4" stroke-linecap="butt"/>
<path d="M734.10 884.40 L740.40 896.90 L727.80 896.90 Z" fill="#ff6200"/>
<line x1="409.60" y1="45.40" x2="408.40" y2="920.70" stroke="#000" stroke-width="1.4" stroke-linecap="butt"/>
<text x="232.30" y="20.00" font-family="'Liberation Sans', sans-serif" font-size="27" font-weight="normal" text-anchor="middle" fill="#000" >A</text>
<text x="627.00" y="20.00" font-family="'Liberation Sans', sans-serif" font-size="27" font-weight="normal" text-anchor="middle" fill="#000" >B</text>
</svg>
</body></html>
